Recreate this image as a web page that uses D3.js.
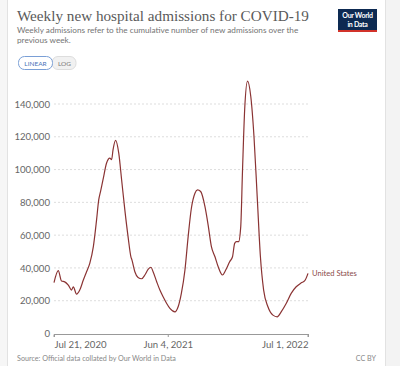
<!DOCTYPE html>
<meta charset="utf-8">
<style>
  body { margin: 0; background: #f2f2f2; }
  svg { display: block; font-family: Lato, "Open Sans", sans-serif; }
</style>
<script src="https://d3js.org/d3.v7.min.js"></script>
<div id="chart"></div>
<script>

// weekly admissions, United States
var dates = ["2020-07-21","2020-08-02","2020-08-11","2020-08-20","2020-08-30","2020-09-08","2020-09-13","2020-09-22",
  "2020-10-01","2020-10-11","2020-10-20","2020-10-29","2020-11-08","2020-11-17","2020-11-23","2020-11-28",
  "2020-12-05","2020-12-15","2020-12-24","2020-12-29","2021-01-02","2021-01-09","2021-01-18","2021-01-26",
  "2021-02-04","2021-02-13","2021-02-21","2021-02-24","2021-03-04","2021-03-13","2021-03-23","2021-04-01",
  "2021-04-10","2021-04-18","2021-04-24","2021-05-04","2021-05-13","2021-05-22","2021-06-01","2021-06-10",
  "2021-06-24","2021-07-03","2021-07-12","2021-07-22","2021-07-31","2021-08-09","2021-08-19","2021-08-26",
  "2021-09-04","2021-09-16","2021-09-25","2021-10-04","2021-10-14","2021-10-23","2021-11-04","2021-11-13",
  "2021-11-24","2021-12-02","2021-12-08","2021-12-13","2021-12-19","2021-12-25","2021-12-30","2022-01-05",
  "2022-01-13","2022-01-22","2022-01-31","2022-02-09","2022-02-18","2022-02-27","2022-03-11","2022-03-25",
  "2022-04-06","2022-04-17","2022-05-01","2022-05-15","2022-05-29","2022-06-12","2022-06-22","2022-07-01"];
var admissions = [31000,38300,32000,31500,29500,26500,28500,24000,
  26500,32600,37700,42800,53000,69300,81500,86600,
  93800,104000,107000,106000,112000,117800,110000,93800,
  75400,59100,46800,44800,37700,34200,33400,35700,
  39100,40400,37700,31600,26500,22400,18300,15300,
  13200,16300,24500,38700,59100,76400,85600,87600,
  86600,77400,66000,53000,46800,40700,35700,38700,
  43800,46800,55000,56000,56000,65200,99900,136600,
  153900,144700,120200,83500,46800,26500,16300,11200,
  10200,13200,18300,24500,28500,30900,32200,36700];

var yTicks = [0,20000,40000,60000,80000,100000,120000,140000];
var xTicks = ["2020-07-21","2021-06-04","2022-07-01"];
var seriesName = "United States";

var W = 400, H = 366;
var parse = d3.timeParse("%Y-%m-%d");
var data = dates.map(function(d, i) { return {date: parse(d), value: admissions[i]}; });

var svg = d3.select("#chart").append("svg")
  .attr("width", W).attr("height", H);

// card
svg.append("rect").attr("x", 0).attr("y", 0).attr("width", 7).attr("height", H).attr("fill", "#f6f6f6");
svg.append("rect").attr("x", 7.5).attr("y", -1).attr("width", 378).attr("height", H + 2)
  .attr("fill", "#fff").attr("stroke", "#e2e2e2");
svg.append("rect").attr("x", 386).attr("y", 0).attr("width", 14).attr("height", H).attr("fill", "#f3f3f3");

// title + subtitle
svg.append("text").attr("x", 17).attr("y", 21)
  .style("font-family", "'Liberation Serif', 'DejaVu Serif', serif").style("font-size", "15.2px")
  .attr("fill", "#5a5a5a").text("Weekly new hospital admissions for COVID-19");
svg.append("text").attr("x", 17).attr("y", 33).style("font-size", "8.2px").attr("fill", "#747474")
  .text("Weekly admissions refer to the cumulative number of new admissions over the");
svg.append("text").attr("x", 17).attr("y", 42.5).style("font-size", "8.2px").attr("fill", "#747474")
  .text("previous week.");

// logo
svg.append("rect").attr("x", 338).attr("y", 9).attr("width", 39).attr("height", 23).attr("fill", "#0d2a52");
svg.append("rect").attr("x", 338).attr("y", 30).attr("width", 39).attr("height", 2).attr("fill", "#d2322a");
svg.append("text").attr("x", 357.5).attr("y", 18).attr("text-anchor", "middle")
  .style("font-size", "7px").style("font-weight", "bold").style("letter-spacing", "-0.3px")
  .attr("fill", "#fff").text("Our World");
svg.append("text").attr("x", 357.5).attr("y", 27).attr("text-anchor", "middle")
  .style("font-size", "7px").style("font-weight", "bold").style("letter-spacing", "-0.3px")
  .attr("fill", "#fff").text("in Data");

// linear / log toggle
svg.append("rect").attr("x", 52).attr("y", 56.5).attr("width", 24).attr("height", 13).attr("rx", 6)
  .attr("fill", "#f1f1f1").attr("stroke", "#ddd");
svg.append("rect").attr("x", 18.5).attr("y", 56.5).attr("width", 34).attr("height", 13).attr("rx", 6)
  .attr("fill", "#fff").attr("stroke", "#7a9fd6");
svg.append("text").attr("x", 35.5).attr("y", 65.5).attr("text-anchor", "middle")
  .style("font-size", "6.5px").attr("fill", "#4a74b8").text("LINEAR");
svg.append("text").attr("x", 64.5).attr("y", 65.5).attr("text-anchor", "middle")
  .style("font-size", "6.5px").attr("fill", "#777").text("LOG");

// scales
var x = d3.scaleTime()
  .domain([parse(xTicks[0]), parse(xTicks[xTicks.length - 1])])
  .range([54, 308]);
var y = d3.scaleLinear().domain([0, 140000]).range([333.5, 104]);

// grid + y labels
var yAxis = svg.append("g").attr("transform", "translate(53,0)")
  .call(d3.axisLeft(y).tickValues(yTicks).tickSize(0).tickPadding(3).tickFormat(d3.format(",")));
yAxis.select(".domain").remove();
yAxis.selectAll("text").style("font-size", "9.6px").attr("fill", "#666").style("font-family", "Lato, sans-serif");
svg.append("g").selectAll("line").data(yTicks.filter(function(d) { return d > 0; })).join("line")
  .attr("x1", 54).attr("x2", 308)
  .attr("y1", function(d) { return y(d); }).attr("y2", function(d) { return y(d); })
  .attr("stroke", "#ddd").attr("stroke-dasharray", "2,2");

// x axis
var xAxis = svg.append("g").attr("transform", "translate(0,334)")
  .call(d3.axisBottom(x).tickValues(xTicks.map(parse)).tickSize(3).tickPadding(4)
    .tickFormat(d3.timeFormat("%b %-d, %Y")));
xAxis.select(".domain").attr("stroke", "#999").attr("d", "M54,3V0.5H308V3");
xAxis.selectAll("line").attr("stroke", "#999");
xAxis.selectAll("text").style("font-size", "9.6px").attr("fill", "#666").style("font-family", "Lato, sans-serif")
  .attr("text-anchor", function(d, i) { return i === 0 ? "start" : (i === xTicks.length - 1 ? "end" : "middle"); });

// line
var line = d3.line()
  .x(function(d) { return x(d.date); })
  .y(function(d) { return y(d.value); })
  .curve(d3.curveMonotoneX);
svg.append("path").datum(data).attr("d", line)
  .attr("fill", "none").attr("stroke", "#8a3333").attr("stroke-width", 1.2);

var last = data[data.length - 1];
svg.append("text").attr("x", x(last.date) + 4).attr("y", y(last.value) + 3)
  .style("font-size", "7.6px").attr("fill", "#8a4b4b").text(seriesName);

// footer
svg.append("text").attr("x", 17).attr("y", 361).style("font-size", "7.2px").attr("fill", "#888")
  .text("Source: Official data collated by Our World in Data");
svg.append("text").attr("x", 376).attr("y", 361).attr("text-anchor", "end").style("font-size", "7.2px")
  .attr("fill", "#888").text("CC BY");

</script>
